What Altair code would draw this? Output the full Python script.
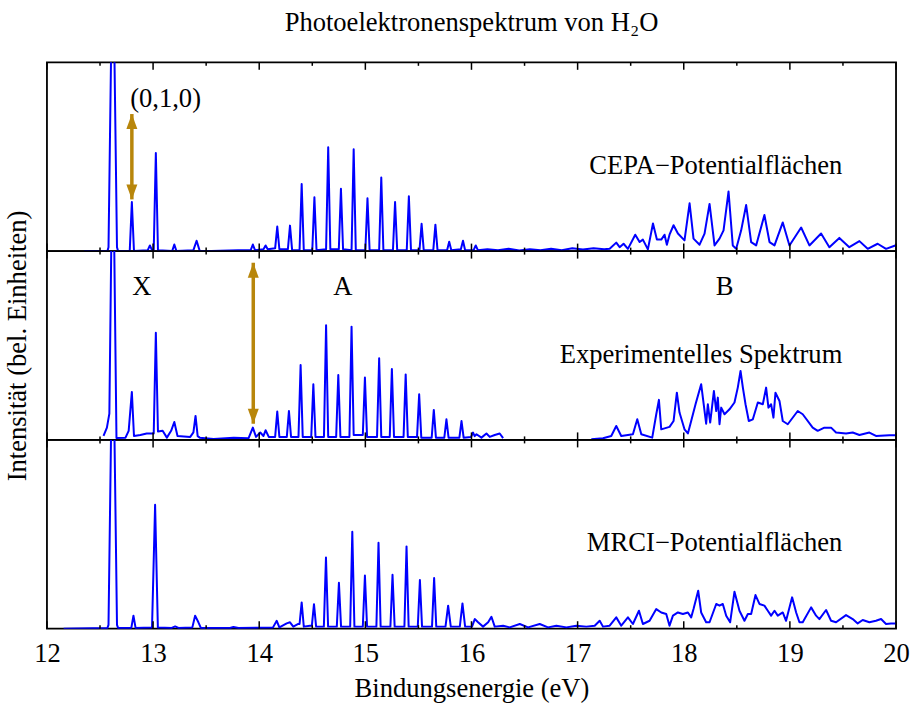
import altair as alt
import pandas as pd

FONT = "Liberation Serif"
FS = 26.6
BLUE = "#0000ff"
GOLD = "#b8860b"
W, H = 850, 189

# ---------------- data ----------------
cepa_x = [12.35, 12.57, 12.58, 12.62, 12.66, 12.67,
          12.78, 12.80, 12.82, 12.95, 12.97, 12.99, 13.006, 13.026, 13.046,
          13.18, 13.20, 13.22, 13.38, 13.41, 13.44, 13.55, 13.80, 13.92, 13.94, 13.96,
          14.04, 14.06, 14.08, 14.15, 14.17, 14.19, 14.27, 14.29, 14.31,
          14.38, 14.40, 14.42, 14.50, 14.52, 14.54, 14.63, 14.65, 14.67,
          14.75, 14.77, 14.79, 14.87, 14.89, 14.91, 15.00, 15.02, 15.04,
          15.13, 15.15, 15.17, 15.26, 15.28, 15.30, 15.39, 15.41, 15.43,
          15.51, 15.53, 15.55, 15.64, 15.66, 15.68, 15.77, 15.79, 15.81,
          15.90, 15.92, 15.94, 16.02, 16.04, 16.06,
          16.15, 16.25, 16.35, 16.45, 16.55, 16.65, 16.75, 16.85, 16.95, 17.05,
          17.15, 17.25, 17.302, 17.364, 17.396, 17.433, 17.474, 17.543, 17.584, 17.615, 17.662,
          17.710, 17.747, 17.788, 17.819, 17.841, 17.866, 17.904, 17.945, 18.007, 18.055, 18.092,
          18.149, 18.196, 18.243, 18.290, 18.337, 18.375, 18.422, 18.462, 18.494, 18.541, 18.588,
          18.635, 18.682, 18.760, 18.808, 18.855, 18.933, 18.996, 19.106, 19.184, 19.294, 19.372,
          19.466, 19.560, 19.655, 19.733, 19.827, 19.906, 19.993]
cepa_y = [0, 0, 2, 170, 2, 0,
          0, 26, 0, 0.5, 3, 0.5, 0.5, 52, 0.5,
          0, 3.5, 0, 0.5, 5.5, 0, 0, 0.5, 0.5, 3.5, 0.5,
          1, 3, 1, 1.5, 13, 1, 1, 13.5, 0.5,
          0.5, 35.5, 0.5, 0.5, 28.5, 0.5, 1, 55, 1,
          1, 33, 1, 0.5, 54, 0.5, 0.5, 28, 0.5,
          0.5, 39, 0.5, 0.5, 26, 0.5, 0.5, 29, 0.5,
          0.5, 14.5, 0.5, 0.5, 14, 0.5, 0.5, 5, 0.5,
          1, 5.5, 0.5, 0.5, 3, 0.5,
          1, 0.5, 1.2, 0.3, 1, 0.5, 1.2, 0.5, 1.5, 0.8,
          1.5, 1, 1.2, 4.5, 2.1, 3.9, 1.2, 8.7, 4.8, 6.1, 0.9,
          14.6, 6.2, 6.1, 8.7, 3.4, 8.7, 13.7, 9.3, 5.7, 25.3, 6.6,
          3.4, 9.3, 25, 3, 6.6, 11, 31.6, 3, 1.2, 11, 24.4,
          4.8, 3, 19.1, 4.8, 3, 15.2, 3, 12.5, 3, 9.3, 2.1,
          7, 2.1, 5.3, 1.2, 3.9, 1.2, 3]

# experimental spectrum, part 1 (X and A bands)
exp1_x = [12.533, 12.565, 12.588, 12.62, 12.655,
          12.74, 12.77, 12.80, 12.82, 12.88, 12.94, 12.99, 13.006, 13.026, 13.046,
          13.09, 13.13, 13.17, 13.20, 13.23, 13.35, 13.38, 13.40, 13.42, 13.44,
          13.57, 13.76, 13.90, 13.94, 13.97, 14.01, 14.04, 14.06, 14.09,
          14.15, 14.17, 14.19, 14.26, 14.28, 14.30, 14.37, 14.39, 14.41,
          14.49, 14.51, 14.53, 14.61, 14.63, 14.65, 14.725, 14.745, 14.765,
          14.85, 14.87, 14.89, 14.976, 14.996, 15.016, 15.11, 15.13, 15.15,
          15.23, 15.25, 15.27, 15.36, 15.38, 15.40, 15.487, 15.507, 15.527,
          15.625, 15.645, 15.665, 15.744, 15.764, 15.784, 15.886, 15.906, 15.926,
          15.995, 16.015, 16.03, 16.047, 16.094, 16.141, 16.172, 16.219, 16.266, 16.298]
exp1_y = [2.1, 6.5, 13.9, 170, 1,
          1.2, 4.8, 25.4, 2.1, 2.6, 3.4, 3.4, 3.4, 56.8, 4.4,
          4.8, 1.2, 4.8, 9.5, 2.1, 1.6, 4, 12.7, 2, 1.2,
          0.5, 1.2, 0.9, 6.5, 1.6, 3.9, 2.1, 5.1, 1.6,
          1.6, 15, 1.6, 1.6, 15.3, 1.6, 1.6, 39.7, 1.6,
          1.6, 29.5, 1.6, 1.6, 60.7, 1.6, 1.6, 34.4, 1.6,
          1.6, 60, 2.6, 2.6, 33, 1.6, 1.6, 43.2, 1.6,
          1.6, 37.6, 1.6, 1.6, 34.7, 1.6, 1.6, 24.2, 1.2,
          1.2, 15.9, 1.2, 1.2, 10.9, 1.2, 1.2, 10, 1.2,
          1.5, 3.9, 2, 3, 1.2, 3.4, 1.6, 2.6, 3.4, 0.9]
# experimental spectrum, part 2 (B band)
exp2_x = [17.129, 17.239, 17.317, 17.364, 17.411, 17.521, 17.562, 17.600, 17.703, 17.741, 17.766,
          17.788, 17.866, 17.904, 17.935, 17.960, 18.007, 18.039, 18.070, 18.111, 18.164, 18.211,
          18.227, 18.249, 18.284, 18.306, 18.321, 18.337, 18.353, 18.384, 18.431, 18.478, 18.509,
          18.535, 18.557, 18.582, 18.613, 18.651, 18.698, 18.745, 18.776, 18.798, 18.823, 18.845,
          18.864, 18.902, 18.933, 18.980, 19.074, 19.121, 19.215, 19.262, 19.325, 19.388, 19.435,
          19.529, 19.592, 19.655, 19.749, 19.811, 19.937, 19.993]
exp2_y = [0.4, 0.9, 2.1, 7.4, 2.1, 3, 10.9, 3, 1.2, 13.6, 21.2,
          5.6, 6.9, 10, 25, 14.5, 5.6, 3.4, 10, 18.9, 29.5, 8.6,
          18.9, 9.2, 25.9, 15.3, 22.4, 8.3, 17.1, 13.6, 16.2, 19.8, 27.7,
          36.5, 27.7, 18.9, 10, 10.9, 19.8, 18.9, 27.7, 17.1, 18.9, 11.8,
          25, 20.6, 10, 8.3, 15.3, 13.6, 6.5, 4.8, 6.5, 6.5, 3.9,
          3.4, 3.9, 2.6, 3.9, 2.1, 2.5, 2.5]

mrci_x = [12.157, 12.57, 12.58, 12.62, 12.66, 12.67,
          12.795, 12.815, 12.835, 12.99, 13.019, 13.045,
          13.176, 13.208, 13.239, 13.37, 13.396, 13.427, 13.45,
          13.725, 13.757, 13.804, 14.13, 14.165, 14.19,
          14.259, 14.290, 14.321, 14.368, 14.38, 14.40, 14.42,
          14.478, 14.496, 14.516, 14.536, 14.609, 14.629, 14.649,
          14.731, 14.751, 14.771, 14.857, 14.877, 14.897, 14.976, 14.996, 15.016,
          15.104, 15.124, 15.144, 15.236, 15.256, 15.276, 15.368, 15.388, 15.408,
          15.494, 15.514, 15.534, 15.628, 15.648, 15.668, 15.755, 15.780, 15.805,
          15.89, 15.915, 15.94, 16.005, 16.031, 16.062,
          16.109, 16.157, 16.188, 16.219, 16.298, 16.360, 16.455, 16.533, 16.643, 16.721,
          16.800, 16.894, 16.988, 17.082, 17.161, 17.208, 17.239, 17.302, 17.364, 17.411, 17.474,
          17.521, 17.578, 17.615, 17.678, 17.741, 17.788, 17.835, 17.866, 17.898, 17.945, 17.992,
          18.039, 18.070, 18.092, 18.136, 18.164, 18.211, 18.243, 18.306, 18.337, 18.368, 18.400,
          18.437, 18.478, 18.525, 18.572, 18.604, 18.635, 18.676, 18.713, 18.760, 18.792, 18.823,
          18.855, 18.886, 18.933, 18.964, 19.021, 19.059, 19.090, 19.121, 19.200, 19.247, 19.278,
          19.341, 19.388, 19.435, 19.529, 19.592, 19.639, 19.686, 19.749, 19.811, 19.859, 19.906,
          19.953, 20.0]
mrci_y = [0, 0.4, 2, 170, 2, 0.4,
          0.4, 6.9, 0.4, 0.7, 65.6, 0.7,
          0.4, 1.2, 0.4, 0.7, 6.9, 3.4, 0.4,
          0.4, 0.9, 0.4, 0.7, 4.2, 0.7,
          2.8, 3.4, 1.1, 2.5, 2.5, 13.9, 1.1,
          1.6, 1.6, 13, 1.1, 1.1, 37.7, 1.1,
          1.1, 24.3, 1.1, 1.1, 51.3, 1.1, 1.1, 28.2, 1.1,
          1.1, 45.5, 1.1, 1.1, 28.6, 1.1, 1.1, 43.6, 1.1,
          1.1, 25.8, 1.1, 1.1, 26.8, 1.1, 1.1, 12.2, 1.1,
          1.1, 13.4, 1.1, 1.1, 5.1, 3.4,
          1.1, 3.4, 6.3, 1.1, 1.6, 0.7, 2.5, 0.7, 2.5, 0.7,
          1.6, 0.7, 1.6, 1.1, 1.6, 4.2, 1.1, 1.6, 6, 1.6, 6,
          2.5, 9.5, 2.5, 4.2, 10.4, 8.6, 7.8, 1.6, 6.9, 8.6, 7.8,
          8.6, 6, 10.4, 20.1, 8.6, 3.4, 3.4, 13.1, 12.2, 13.1, 6.9,
          3.4, 19.6, 9.5, 4.2, 7.8, 7.8, 17.8, 13.1, 12.2, 9.5, 6.9,
          9.5, 6.9, 8.6, 4.2, 16.6, 8.6, 3.4, 3.4, 11.3, 6.9, 5.1,
          9.9, 4.2, 3.4, 7.2, 5.1, 2.8, 4.6, 3.4, 4.2, 5.1, 2.5,
          2.8, 2.8]

major_ticks = [12, 13, 14, 15, 16, 17, 18, 19, 20]
minor_ticks = [12.5, 13.5, 14.5, 15.5, 16.5, 17.5, 18.5, 19.5]

panel_labels = ["CEPA\u2212Potentialflächen", "Experimentelles Spektrum", "MRCI\u2212Potentialflächen"]
panel_label_x = [19.494, 19.494, 19.494]
panel_label_y = [40.8, 40.9, 40.9]

band_names = ["X", "A", "B"]
band_x = [12.894, 14.789, 18.384]
band_y = [76.7, 76.7, 76.7]

vib_label = ["(0,1,0)"]
vib_x = [12.784]
vib_y = [76.1]

# arrows: x, top tip, bottom tip  (panel 0 = CEPA, panel 1 = experiment)
arrow_panel = [0, 1]
arrow_x = [12.80, 13.944]
arrow_top = [72.6, 93.8]
arrow_bottom = [27.4, 8.6]

# ---------------- building blocks ----------------
xscale = alt.Scale(domain=[12, 20], nice=False, zero=False)
yscale = alt.Scale(domain=[0, 100], nice=False, zero=False)

UP = "M0,0 L-1,2.7 L1,2.7 Z"
DOWN = "M0,0 L-1,-2.7 L1,-2.7 Z"


def make_panel(line_parts, idx, bottom_axis=False, ytitle=False):
    if bottom_axis:
        xaxis = alt.Axis(values=major_ticks, format="d", ticks=False, domain=False, grid=False,
                         labelFontSize=FS, labelFont=FONT, labelPadding=12, labelFlush=False,
                         labelOverlap=False, labelColor="black",
                         title="Bindungsenergie (eV)", titleFont=FONT, titleFontSize=FS,
                         titleFontWeight="normal", titlePadding=8, titleColor="black")
    else:
        xaxis = None
    if ytitle:
        yaxis = alt.Axis(labels=False, ticks=False, domain=False, grid=False,
                         title="Intensität (bel. Einheiten)", titleFont=FONT, titleFontSize=FS,
                         titleFontWeight="normal", titlePadding=15, titleColor="black")
    else:
        yaxis = None

    X = lambda f="x": alt.X(f"{f}:Q", scale=xscale, axis=xaxis)
    Y = lambda f="y": alt.Y(f"{f}:Q", scale=yscale, axis=yaxis)

    layers = []
    for xs, ys in line_parts:
        df = pd.DataFrame({"x": xs, "y": ys})
        layers.append(alt.Chart(df).mark_line(color=BLUE, strokeWidth=2, clip=True,
                                              strokeJoin="round")
                      .encode(x=X(), y=Y()))

    tmaj = pd.DataFrame({"x": major_ticks})
    tmin = pd.DataFrame({"x": minor_ticks})
    for dfv, ln in ((tmaj, 7.5), (tmin, 3.5)):
        layers.append(alt.Chart(dfv).mark_rule(color="black", strokeWidth=1.5)
                      .encode(x=X(), y=alt.value(0), y2=alt.value(ln)))
        layers.append(alt.Chart(dfv).mark_rule(color="black", strokeWidth=1.5)
                      .encode(x=X(), y=alt.value(H), y2=alt.value(H - ln)))

    lab = pd.DataFrame({"x": [panel_label_x[idx]], "y": [panel_label_y[idx]],
                        "t": [panel_labels[idx]]})
    layers.append(alt.Chart(lab).mark_text(align="right", baseline="alphabetic", font=FONT,
                                           fontSize=FS, color="black")
                  .encode(x=X(), y=Y(), text="t:N"))

    if idx == 0:
        v = pd.DataFrame({"x": vib_x, "y": vib_y, "t": vib_label})
        layers.append(alt.Chart(v).mark_text(align="left", baseline="alphabetic", font=FONT,
                                             fontSize=FS, color="black")
                      .encode(x=X(), y=Y(), text="t:N"))
    if idx == 1:
        b = pd.DataFrame({"x": band_x, "y": band_y, "t": band_names})
        layers.append(alt.Chart(b).mark_text(align="center", baseline="alphabetic", font=FONT,
                                             fontSize=FS, color="black")
                      .encode(x=X(), y=Y(), text="t:N"))

    for k, p in enumerate(arrow_panel):
        if p != idx:
            continue
        a = pd.DataFrame({"x": [arrow_x[k]], "y": [arrow_top[k]], "y2": [arrow_bottom[k]]})
        layers.append(alt.Chart(a).mark_rule(color=GOLD, strokeWidth=3.5)
                      .encode(x=X(), y=Y(), y2="y2:Q"))
        layers.append(alt.Chart(a).mark_point(shape=UP, filled=True, color=GOLD, size=121,
                                              opacity=1, strokeWidth=0)
                      .encode(x=X(), y=Y()))
        layers.append(alt.Chart(a).mark_point(shape=DOWN, filled=True, color=GOLD, size=121,
                                              opacity=1, strokeWidth=0)
                      .encode(x=X(), y=Y("y2")))

    return alt.layer(*layers).properties(width=W, height=H)


top = make_panel([(cepa_x, cepa_y)], 0).properties(
    title=alt.TitleParams("Photoelektronenspektrum von H\u2082O", font=FONT, fontSize=FS,
                          fontWeight="normal", color="black", anchor="middle",
                          baseline="alphabetic", offset=4, frame="group"))
mid = make_panel([(exp1_x, exp1_y), (exp2_x, exp2_y)], 1, ytitle=True)
bot = make_panel([(mrci_x, mrci_y)], 2, bottom_axis=True)

chart = alt.vconcat(top, mid, bot, spacing=0, bounds="flush").properties(
    padding={"left": 4, "right": 4, "top": 8, "bottom": 6}
).configure(
    font=FONT,
    view=alt.ViewConfig(stroke="black", strokeWidth=1.8),
)

chart.save("out.html", embed_options={"renderer": "svg", "actions": False})
